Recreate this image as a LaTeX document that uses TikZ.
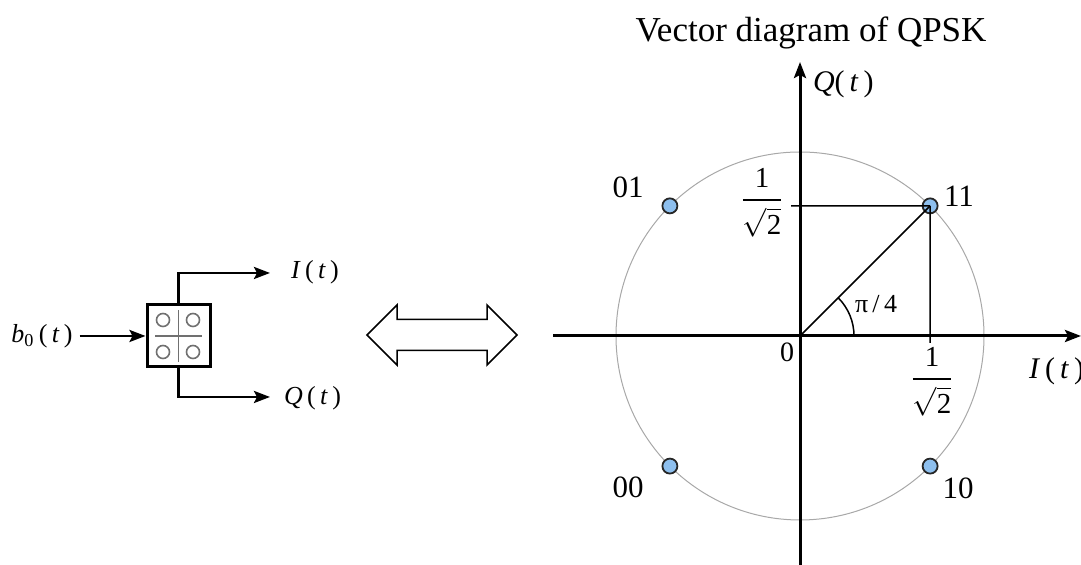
\documentclass[tikz,border=0pt]{standalone}
\usepackage{amsmath}
\usepackage{fontspec}
\setmainfont{Liberation Serif}
\usetikzlibrary{arrows.meta}
\definecolor{pointColor}{HTML}{8DBFEE}
\definecolor{circleColor}{HTML}{A8A8A8}
\definecolor{gridColor}{HTML}{707070}
\newcommand{\invroot}{$\genfrac{}{}{1.1pt}{0}{\text{1}}{\sqrt{\text{2}}}$}

\begin{document}
\begin{tikzpicture}[x=0.5pt, y=0.5pt, >={Stealth[length=8pt, width=6pt, inset=1.5pt]}]
    \useasboundingbox (0,0) rectangle (1081,565);
    % serial to parallel converter
    \node[draw, line width=1.5pt, minimum width=31.5pt, minimum height=31pt, inner sep=0pt] (sp) at (178.5,229) {};
    \draw[gridColor, line width=0.9pt] (178.5,203) -- (178.5,255);
    \draw[gridColor, line width=0.9pt] (155,229) -- (202,229);
    \foreach \px/\py in {163/245, 193/245, 163/213, 193/213}
        \draw[gridColor, line width=0.8pt] (\px,\py) circle (6.5);
    \node[font=\fontsize{13}{15}\selectfont] (bIn) at (42,229) {\textit{b}$_{\text{0}}$\,(\,\textit{t}\,)};
    \coordinate (iOut) at (270,292);
    \coordinate (qOut) at (270,168);
    \draw[->, line width=1.3pt] (bIn.east) -- (sp.west);
    \draw[->, line width=1.3pt] (sp.north) |- (iOut);
    \draw[->, line width=1.3pt] (sp.south) |- (qOut);
    \node[anchor=west, font=\fontsize{13}{15}\selectfont] (iLbl) at (284,293) {\textit{I}\,(\,\textit{t}\,)};
    \node[anchor=west, font=\fontsize{13}{15}\selectfont] (qLbl) at (277,167) {\textit{Q}\,(\,\textit{t}\,)};
    % equivalence arrow
    \draw[line width=0.75pt, line join=miter] (367,230) -- (397,260) -- (397,245.5) -- (487,245.5) -- (487,260)
        -- (517,230) -- (487,200) -- (487,214.5) -- (397,214.5) -- (397,200) -- cycle;
    % vector diagram
    \coordinate (O) at (800,229);
    \coordinate (iStart) at (553,229);
    \coordinate (iTip) at (1081,229);
    \coordinate (qStart) at (800,0);
    \coordinate (qTip) at (800,503);
    \node[anchor=base, font=\fontsize{17.5}{20}\selectfont] (title) at (811,523) {Vector diagram of QPSK};
    \draw[circleColor, line width=0.5pt] (O) circle (184);
    \draw[->, line width=1.5pt] (iStart) -- (iTip);
    \draw[->, line width=1.5pt] (qStart) -- (qTip);
    \node[anchor=west, font=\fontsize{15}{17}\selectfont] (qAxis) at (806,481) {\textit{Q}(\,\textit{t}\,)};
    \node[anchor=west, font=\fontsize{15}{17}\selectfont] (iAxis) at (1022,194) {\textit{I}\,(\,\textit{t}\,)};
    \foreach \ang/\lbl in {45/11, 135/01, 225/00, 315/10}
        \filldraw[fill=pointColor, draw=black!85, line width=0.9pt] ([shift={(\ang:184)}]O) circle (7.5)
            coordinate (p\lbl);
    \coordinate (qTick) at (791,359);
    \coordinate (iTick) at (930,222);
    \draw[line width=0.75pt] (qTick) -- (p11);
    \draw[line width=0.75pt] (p11) -- (iTick);
    \draw[line width=0.75pt] (O) -- (p11);
    \draw[line width=0.75pt] ([shift={(0:54)}]O) arc[start angle=0, end angle=45, radius=54];
    \node[font=\fontsize{13}{15}\selectfont] (angLbl) at (876,261) {π\,/\,4};
    \node[font=\fontsize{14}{16}\selectfont] (oLbl) at (787,213) {0};
    \node[font=\fontsize{14.5}{16}\selectfont, inner sep=1pt] (qVal) at (762,362) {\invroot};
    \node[font=\fontsize{14.5}{16}\selectfont, inner sep=1pt] (iVal) at (932,183) {\invroot};
    \node[font=\fontsize{15.5}{17}\selectfont] (l01) at (628,378) {01};
    \node[font=\fontsize{15.5}{17}\selectfont] (l11) at (959,369) {11};
    \node[font=\fontsize{15.5}{17}\selectfont] (l00) at (628,78) {00};
    \node[font=\fontsize{15.5}{17}\selectfont] (l10) at (958,77) {10};
\end{tikzpicture}
\end{document}
